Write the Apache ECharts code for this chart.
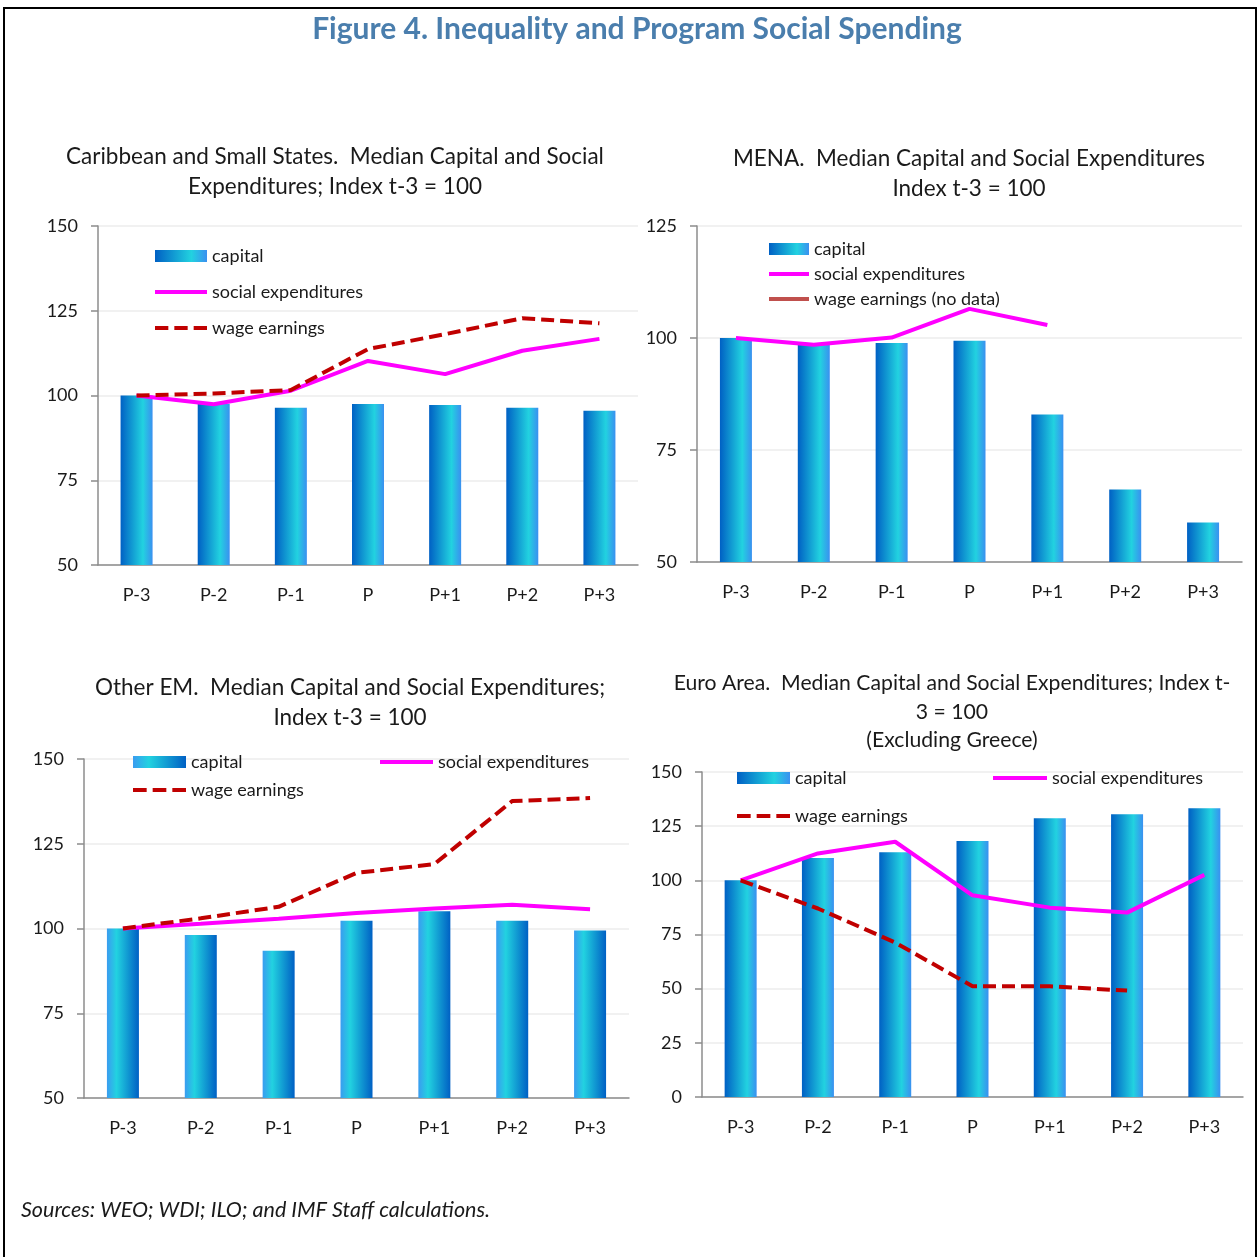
<!DOCTYPE html>
<html><head><meta charset="utf-8">
<script src="https://cdn.jsdelivr.net/npm/echarts@6/dist/echarts.min.js"></script>
<style>html,body{margin:0;padding:0;background:#fff}#c{width:1260px;height:1257px}</style>
</head><body><div id="c"></div>
<script>
const categories = ['P-3','P-2','P-1','P','P+1','P+2','P+3'];
const yTicksCar = [50, 75, 100, 125, 150];
const yTicksMena = [50, 75, 100, 125];
const yTicksEm = [50, 75, 100, 125, 150];
const yTicksEuro = [0, 25, 50, 75, 100, 125, 150];

const carCapital = [100, 97.6, 96.4, 97.5, 97.2, 96.4, 95.5];
const carSocial  = [100, 97.4, 101.4, 110.2, 106.3, 113.2, 116.7];
const carWage    = [100, 100.6, 101.6, 113.7, 118.1, 122.8, 121.3];

const menaCapital = [100, 98.6, 98.9, 99.4, 82.9, 66.2, 58.8];
const menaSocial  = [100, 98.5, 100.1, 106.5, 102.9, null, null];
const menaWage    = [null, null, null, null, null, null, null];

const emCapital = [100, 98.1, 93.4, 102.3, 105.1, 102.3, 99.4];
const emSocial  = [100, 101.4, 102.9, 104.6, 105.9, 107.0, 105.7];
const emWage    = [100, 103.0, 106.4, 116.4, 119.0, 137.6, 138.5];

const euCapital = [100, 110.3, 113.0, 118.1, 128.7, 130.5, 133.3];
const euSocial  = [100, 112.4, 117.8, 93.1, 87.4, 85.1, 102.5];
const euWage    = [100, 87.0, 71.3, 51.1, 51.1, 49.1, null];

const FONT = 'Lato';
const gradA = new echarts.graphic.LinearGradient(0,0,1,0,[
  {offset:0,color:'#0060C4'},{offset:0.7,color:'#22D2E0'},{offset:1,color:'#3A90F0'}]);
const gradB = new echarts.graphic.LinearGradient(0,0,1,0,[
  {offset:0,color:'#3A9CF0'},{offset:0.3,color:'#22D2E0'},{offset:1,color:'#0060C4'}]);

const grids = [
  {left:98, top:226, width:540, height:339},
  {left:697, top:226, width:545, height:336},
  {left:84, top:759, width:545, height:339},
  {left:702, top:772, width:541, height:325}
];
const yRanges = [
  [yTicksCar[0], yTicksCar[yTicksCar.length-1]],
  [yTicksMena[0], yTicksMena[yTicksMena.length-1]],
  [yTicksEm[0], yTicksEm[yTicksEm.length-1]],
  [yTicksEuro[0], yTicksEuro[yTicksEuro.length-1]]
];

const axisGray = '#8c8c8c';
const xAxes = grids.map((g,i)=>({
  gridIndex:i, type:'category', data:categories,
  axisLine:{lineStyle:{color:axisGray, width:1.5}},
  axisTick:{length:8, lineStyle:{color:axisGray, width:1.5}},
  axisLabel:{fontFamily:FONT, fontSize:18, color:'#1a1a1a', margin:21}
}));
const yAxes = grids.map((g,i)=>({
  gridIndex:i, type:'value', min:yRanges[i][0], max:yRanges[i][1], interval:25,
  axisLine:{show:true, lineStyle:{color:axisGray, width:1.5}},
  axisTick:{show:true, length:7, lineStyle:{color:axisGray, width:1.5}},
  axisLabel:{fontFamily:FONT, fontSize:18, color:'#1a1a1a', margin:20},
  splitLine:{show:true, lineStyle:{color:'#ececec', width:1.5}}
}));

const DASH = [13, 6];
function bar(name, data, i, grad){
  return {name, type:'bar', xAxisIndex:i, yAxisIndex:i, data, barWidth:32,
    itemStyle:{color:grad}, z:2};
}
function social(data, i){
  return {name:'social expenditures', type:'line', xAxisIndex:i, yAxisIndex:i, data,
    symbol:'none', lineStyle:{color:'#FF00FF', width:4}, itemStyle:{color:'#FF00FF'}, z:3};
}
function wage(data, i){
  return {name:'wage earnings', type:'line', xAxisIndex:i, yAxisIndex:i, data,
    symbol:'none', lineStyle:{color:'#C00000', width:4, type:DASH}, itemStyle:{color:'#C00000'}, z:4};
}

const series = [
  bar('capital', carCapital, 0, gradA), social(carSocial, 0), wage(carWage, 0),
  bar('capital', menaCapital, 1, gradA), social(menaSocial, 1),
  {name:'wage earnings (no data)', type:'line', xAxisIndex:1, yAxisIndex:1, data:menaWage,
    symbol:'none', lineStyle:{color:'#C0504D', width:4}, itemStyle:{color:'#C0504D'}},
  bar('capital', emCapital, 2, gradB), social(emSocial, 2), wage(emWage, 2),
  bar('capital', euCapital, 3, gradA), social(euSocial, 3), wage(euWage, 3)
];

function solidIcon(w){ return 'path://M0,0H' + w + 'V4H0Z'; }
function dashIcon(w){
  const d = (w - 12) / 3;
  let p = '';
  for (let k = 0; k < 3; k++) { const x0 = k * (d + 6); p += 'M' + x0 + ',0H' + (x0 + d) + 'V4H' + x0 + 'Z'; }
  return 'path://' + p;
}
function legBar(left, cy, iw, grad){
  return {left:left, top:cy-10, padding:0, itemWidth:iw, itemHeight:12, itemGap:0, selectedMode:false,
    data:[Object.assign({name:'capital', icon:'rect'}, grad ? {itemStyle:{color:grad}} : {})],
    textStyle:{fontFamily:FONT, fontSize:18, color:'#1a1a1a', lineHeight:20}};
}
function legLine(name, left, cy, iw, dashed){
  return {left:left, top:cy-10, padding:0, itemWidth:iw, itemHeight:4, itemGap:0, selectedMode:false,
    data:[{name, icon: dashed ? dashIcon(iw) : solidIcon(iw)}],
    textStyle:{fontFamily:FONT, fontSize:18, color:'#1a1a1a', lineHeight:20}};
}
const legends = [
  legBar(155, 256, 52), legLine('social expenditures', 155, 292, 52), legLine('wage earnings', 155, 328, 52, true),
  legBar(769, 249, 40), legLine('social expenditures', 769, 274, 40), legLine('wage earnings (no data)', 769, 299, 40),
  legBar(133, 762, 53, gradB), legLine('social expenditures', 380, 762, 53), legLine('wage earnings', 133, 790, 53, true),
  legBar(737, 778, 53), legLine('social expenditures', 993, 778, 54), legLine('wage earnings', 737, 816, 53, true)
];

const subTitle = (text, cx, top, fs, lh) => ({
  text, left:cx, top:top, textAlign:'center', padding:0,
  textStyle:{fontFamily:FONT, fontSize:fs, fontWeight:'normal', color:'#1a1a1a', lineHeight:lh}
});

const option = {
  animation:false,
  backgroundColor:'#fff',
  title:[
    {text:'Figure 4. Inequality and Program Social Spending', left:637, top:14, textAlign:'center', padding:0,
      textStyle:{fontFamily:FONT, fontSize:30, fontWeight:'bold', color:'#4A7EAD'}},
    subTitle('Caribbean and Small States.  Median Capital and Social\nExpenditures; Index t-3 = 100', 335, 142, 22.5, 30),
    subTitle('MENA.  Median Capital and Social Expenditures\nIndex t-3 = 100', 969, 144, 22.5, 30),
    subTitle('Other EM.  Median Capital and Social Expenditures;\nIndex t-3 = 100', 350, 673, 22.5, 30),
    subTitle('Euro Area.  Median Capital and Social Expenditures; Index t-\n3 = 100\n(Excluding Greece)', 952, 669, 21.2, 28.5),
    {text:'Sources: WEO; WDI; ILO; and IMF Staff calculations.', left:21, top:1199, padding:0,
      textStyle:{fontFamily:FONT, fontSize:21.5, fontStyle:'italic', fontWeight:'normal', color:'#1a1a1a'}}
  ],
  legend: legends,
  grid: grids,
  xAxis: xAxes,
  yAxis: yAxes,
  series: series,
  graphic:[{type:'rect', shape:{x:4, y:8, width:1252, height:1270}, style:{fill:'none', stroke:'#000', lineWidth:2}, silent:true}]
};
const chart = echarts.init(document.getElementById('c'));
chart.setOption(option);
</script></body></html>
